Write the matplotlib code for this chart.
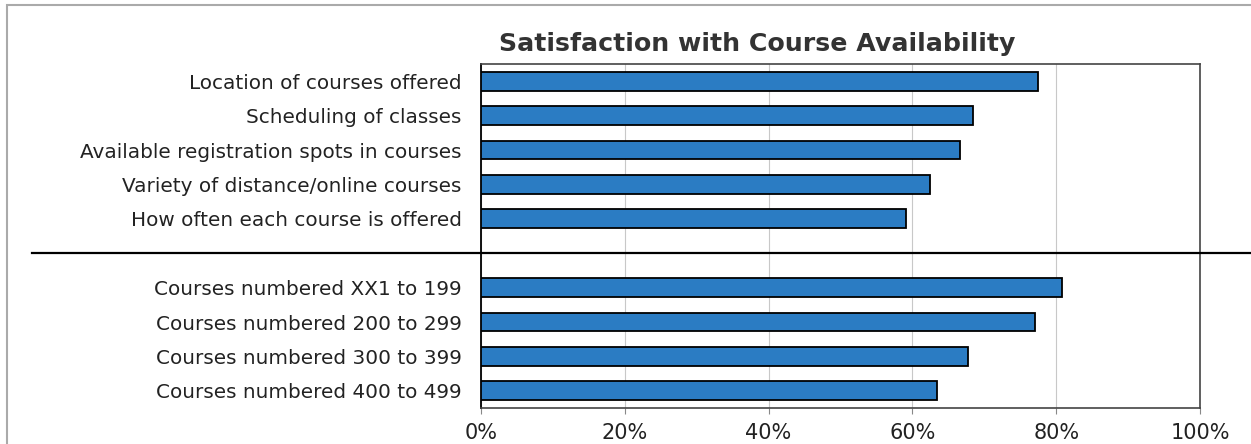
import numpy as np
import matplotlib.pyplot as plt
from matplotlib.patches import Rectangle
from matplotlib.transforms import blended_transform_factory

# ---- data ----
top_labels = ["Location of courses offered",
              "Scheduling of classes",
              "Available registration spots in courses",
              "Variety of distance/online courses",
              "How often each course is offered"]
top_values = [77.4, 68.4, 66.6, 62.4, 59.1]

level_labels = ["Courses numbered XX1 to 199",
                "Courses numbered 200 to 299",
                "Courses numbered 300 to 399",
                "Courses numbered 400 to 499"]
level_values = [80.8, 77.0, 67.7, 63.4]

x_ticks = [0, 20, 40, 60, 80, 100]
x_tick_labels = ["0%", "20%", "40%", "60%", "80%", "100%"]

title = "Satisfaction with Course Availability"

# ---- layout ----
W, H = 1251, 444
fig = plt.figure(figsize=(W / 100, H / 100), dpi=100)
plt.rcParams['font.family'] = ['DejaVu Sans']

# axes box in pixels: left 481, right 1200, top 64, bottom 408
ax = fig.add_axes([481 / W, 1 - 408 / H, (1200 - 481) / W, (408 - 64) / H])

# one empty slot between the two groups (separator goes there)
labels = top_labels + [""] + level_labels
values = top_values + [np.nan] + level_values
pos = np.arange(len(labels))

bar_color = "#2b7cc3"
ax.barh(pos, values, height=0.55, color=bar_color, edgecolor="black",
        linewidth=1.3, zorder=3)

ax.set_xlim(0, 100)
ax.set_ylim(len(labels) - 0.5, -0.5)

ax.set_yticks(pos)
ax.set_yticklabels(labels, fontsize=14.4, color="#222222")
ax.tick_params(axis="y", length=0, pad=14)

ax.set_xticks(x_ticks)
ax.set_xticklabels(x_tick_labels, fontsize=15, color="#222222")
ax.tick_params(axis="x", length=4, width=0.8, color="#888888", pad=7)

ax.xaxis.grid(True, color="#c8c8c8", linewidth=0.8, zorder=0)
ax.set_axisbelow(True)

for side in ["top", "right", "bottom"]:
    ax.spines[side].set_color("#444444")
    ax.spines[side].set_linewidth(1.2)
ax.spines["left"].set_color("black")
ax.spines["left"].set_linewidth(1.3)

# separator line between groups, running past the axes
trans = blended_transform_factory(fig.transFigure, ax.transData)
fig.add_artist(plt.Line2D([32 / W, 1.0], [5, 5], transform=trans,
                          color="black", linewidth=1.6))

# title
fig.text(757 / W, 1 - 44 / H, title, ha="center", va="center",
         fontsize=18.2, fontweight="bold", color="#333333")

# faint scan border, top and left
fig.add_artist(Rectangle((7 / W, -0.1), 1.2, 1 - 5 / H + 0.1,
                         transform=fig.transFigure, fill=False,
                         edgecolor="#aaaaaa", linewidth=1.5))

fig.savefig("out.png", dpi=100)
